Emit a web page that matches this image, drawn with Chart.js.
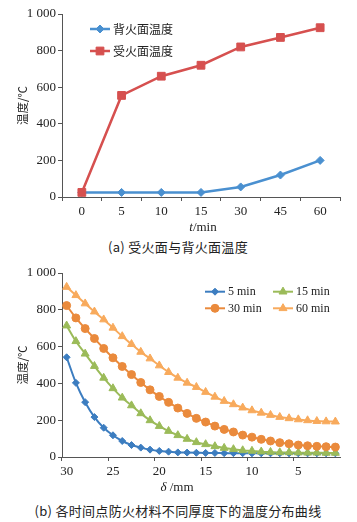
<!DOCTYPE html>
<html>
<head>
<meta charset="utf-8">
<script src="https://cdn.jsdelivr.net/npm/chart.js"></script>
<style>
html,body{margin:0;padding:0;background:#fff;}
body{width:357px;height:522px;position:relative;overflow:hidden;}
.box{position:absolute;left:0;width:357px;}
.cap{position:absolute;left:0;width:356px;text-align:center;font:13px "Noto Sans CJK SC",sans-serif;color:#222;line-height:18px;letter-spacing:0.3px;}
</style>
</head>
<body>
<div class="box" style="top:0;height:236px;"><canvas id="c1"></canvas></div>
<div class="cap" style="top:238px;">(a) 受火面与背火面温度</div>
<div class="box" style="top:262px;height:236px;"><canvas id="c2"></canvas></div>
<div class="cap" style="top:502px;">(b) 各时间点防火材料不同厚度下的温度分布曲线</div>
<script>
// ---- data (chart a) ----
const timeLabels = ['0','5','10','15','30','45','60'];
const backTemp = [25,25,25,25,55,120,200];
const fireTemp = [25,555,660,720,820,872,925];
// ---- data (chart b) ----
const thickness = [30,29,28,27,26,25,24,23,22,21,20,19,18,17,16,15,14,13,12,11,10,9,8,7,6,5,4,3,2,1];
const t5  = [542,403,298,217,159,118,87,65,51,40,33,29,25,24,23,22,22,21,21,21,20,20,20,20,20,20,20,20,20,20];
const t15 = [714,629,561,494,430,373,322,280,237,199,168,141,118,98,80,69,58,49,42,36,33,29,27,25,25,24,23,23,22,22];
const t30 = [823,756,698,644,590,539,492,448,405,365,329,297,266,237,210,190,168,150,136,119,108,96,87,78,72,65,61,58,56,54];
const t60 = [924,879,834,790,747,702,656,613,571,535,497,461,430,403,380,353,327,304,286,268,253,240,228,217,210,204,199,195,193,192];
const yTicks = [0,200,400,600,800,1000];

const SERIF = '"Liberation Serif","DejaVu Serif",serif';
const CJK = '"Noto Sans CJK SC",sans-serif';
const AX = '#555';

const annot = {
  id: 'annot',
  afterDraw(chart, args, o) {
    const ctx = chart.ctx, ca = chart.chartArea;
    ctx.save();
    ctx.fillStyle = '#222';
    // y title
    ctx.save();
    ctx.translate(o.yTitleX, (ca.top + ca.bottom) / 2);
    ctx.rotate(-Math.PI / 2);
    ctx.font = '11.5px ' + CJK;
    ctx.textAlign = 'center';
    ctx.textBaseline = 'middle';
    ctx.fillText(o.yTitle, 0, 0);
    ctx.restore();
    // x title
    const parts = o.xTitle;
    let total = 0;
    const fonts = parts.map(p => (p.italic ? 'italic ' : '') + '13px ' + SERIF);
    parts.forEach((p, i) => { ctx.font = fonts[i]; total += ctx.measureText(p.text).width; });
    let x = (ca.left + ca.right) / 2 + o.xTitleDx - total / 2;
    const y = ca.bottom + o.xTitleDy;
    ctx.textBaseline = 'middle';
    ctx.textAlign = 'left';
    parts.forEach((p, i) => { ctx.font = fonts[i]; ctx.fillText(p.text, x, y); x += ctx.measureText(p.text).width; });
    // legend
    const L = o.legend;
    chart.data.datasets.forEach((ds, i) => {
      const col = i % L.cols, row = Math.floor(i / L.cols);
      const x0 = ca.left + L.x + col * L.colW;
      const y0 = ca.top + L.y + row * L.rowH;
      ctx.strokeStyle = ds.borderColor;
      ctx.fillStyle = ds.backgroundColor;
      ctx.lineWidth = ds.borderWidth;
      ctx.beginPath(); ctx.moveTo(x0, y0); ctx.lineTo(x0 + L.lineLen, y0); ctx.stroke();
      if (Chart.helpers && Chart.helpers.drawPoint) {
        ctx.lineWidth = 1;
        Chart.helpers.drawPoint(ctx, {pointStyle: ds.pointStyle, radius: ds.pointRadius, rotation: 0, borderWidth: 1}, x0 + L.lineLen / 2, y0);
      }
      ctx.fillStyle = '#222';
      ctx.font = L.font;
      ctx.textAlign = 'left';
      ctx.textBaseline = 'middle';
      ctx.fillText(ds.label, x0 + L.lineLen + 3, y0 + 0.5);
    });
    ctx.restore();
  }
};

function yAxis() {
  return {
    min: 0, max: 1000,
    afterFit(s) { s.width = 62; },
    afterBuildTicks(s) { s.ticks = yTicks.map(v => ({value: v})); },
    ticks: { font: {family: SERIF, size: 13}, color: '#222', padding: 2,
      callback: v => v >= 1000 ? String(v).replace(/^(\d)(\d{3})$/, '$1 $2') : String(v) },
    grid: { drawOnChartArea: false, drawTicks: true, tickLength: 4, color: AX },
    border: { color: AX, width: 1 }
  };
}

new Chart(document.getElementById('c1'), {
  type: 'line',
  data: {
    labels: timeLabels,
    datasets: [
      { label: '背火面温度', data: backTemp, borderColor: '#4a90d0', backgroundColor: '#4a90d0', borderWidth: 2.5,
        pointStyle: 'rectRot', pointRadius: 4, pointBorderWidth: 1, tension: 0, order: 2 },
      { label: '受火面温度', data: fireTemp, borderColor: '#d6504f', backgroundColor: '#d6504f', borderWidth: 2.5,
        pointStyle: 'rect', pointRadius: 5.5, pointBorderWidth: 1, tension: 0, order: 1 }
    ]
  },
  options: {
    responsive: true, maintainAspectRatio: false, animation: false, devicePixelRatio: 1,
    layout: { padding: { top: 14, right: 17, left: 0, bottom: 0 } },
    plugins: {
      legend: { display: false }, tooltip: { enabled: false },
      annot: { yTitle: '温度/℃', yTitleX: 23, xTitle: [{text: 't', italic: true}, {text: '/min'}], xTitleDx: 2, xTitleDy: 31,
        legend: { x: 28, y: 15, cols: 1, colW: 0, rowH: 22, lineLen: 20, font: '12px ' + CJK } }
    },
    scales: {
      x: {
        type: 'category', offset: true,
        afterFit(s) { s.height = 39; },
        ticks: { font: {family: SERIF, size: 13}, color: '#222', padding: 3, maxRotation: 0, autoSkip: false },
        grid: { offset: true, drawOnChartArea: false, drawTicks: true, tickLength: 4, color: AX },
        border: { color: AX, width: 1 }
      },
      y: yAxis()
    }
  },
  plugins: [annot]
});

new Chart(document.getElementById('c2'), {
  type: 'line',
  data: {
    labels: thickness.map(String),
    datasets: [
      { label: '5 min', data: t5, borderColor: '#3c7dc0', backgroundColor: '#3c7dc0', borderWidth: 2,
        pointStyle: 'rectRot', pointRadius: 3.5, pointBorderWidth: 1, cubicInterpolationMode: 'monotone', order: 4 },
      { label: '15 min', data: t15, borderColor: '#9bbb59', backgroundColor: '#9bbb59', borderWidth: 2,
        pointStyle: 'triangle', pointRadius: 4.6, pointBorderWidth: 1, cubicInterpolationMode: 'monotone', order: 3 },
      { label: '30 min', data: t30, borderColor: '#ea8a3c', backgroundColor: '#ea8a3c', borderWidth: 2,
        pointStyle: 'circle', pointRadius: 4, pointBorderWidth: 1, cubicInterpolationMode: 'monotone', order: 2 },
      { label: '60 min', data: t60, borderColor: '#f8aa5c', backgroundColor: '#f8aa5c', borderWidth: 2,
        pointStyle: 'triangle', pointRadius: 4.6, pointBorderWidth: 1, cubicInterpolationMode: 'monotone', order: 1 }
    ]
  },
  options: {
    responsive: true, maintainAspectRatio: false, animation: false, devicePixelRatio: 1,
    layout: { padding: { top: 11, right: 17, left: 0, bottom: 0 } },
    plugins: {
      legend: { display: false }, tooltip: { enabled: false },
      annot: { yTitle: '温度/℃', yTitleX: 23, xTitle: [{text: 'δ', italic: true}, {text: ' /mm'}], xTitleDx: -24, xTitleDy: 31,
        legend: { x: 143, y: 18.7, cols: 2, colW: 68, rowH: 16.6, lineLen: 20, font: '12px ' + SERIF } }
    },
    scales: {
      x: {
        type: 'category', offset: true,
        afterFit(s) { s.height = 41; },
        ticks: { font: {family: SERIF, size: 13}, color: '#222', padding: 3, maxRotation: 0, autoSkip: false,
          callback(v, i) { return i % 5 === 0 ? this.getLabelForValue(v) : ''; } },
        grid: { offset: true, drawOnChartArea: false, drawTicks: true, tickLength: 4,
          color: c => (c.index % 5 === 0 ? AX : 'rgba(0,0,0,0)') },
        border: { color: AX, width: 1 }
      },
      y: yAxis()
    }
  },
  plugins: [annot]
});
</script>
</body>
</html>
